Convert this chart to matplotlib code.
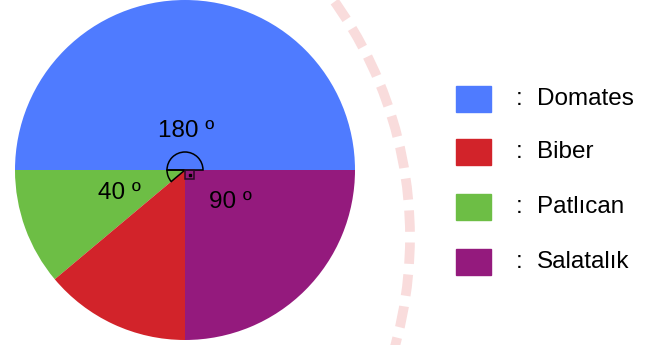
import matplotlib.pyplot as plt
from matplotlib.patches import Wedge, Rectangle, Circle

# veriler
dilimler = ['Domates', 'Patlıcan', 'Biber', 'Salatalık']
acilar = [180, 40, 50, 90]
renkler = ['#4f7bff', '#6dbe45', '#d2232a', '#941a7d']
etiketler = ['180 º', '40 º', '', '90 º']

lejant = ['Domates', 'Biber', 'Patlıcan', 'Salatalık']
lejant_renk = ['#4f7bff', '#d2232a', '#6dbe45', '#941a7d']

plt.rcParams['font.family'] = ['Liberation Sans', 'DejaVu Sans']

fig = plt.figure(figsize=(6.61, 3.45), dpi=100)
ax = fig.add_axes([0, 0, 1, 1])

cx, cy, r = 185, 170, 170

# silik filigran (mühür halkası)
ax.add_patch(Circle((5, 237), 405, fill=False, ec='#f9dcdc', lw=7,
                    ls=(0, (2.2, 1.1)), zorder=0))

ax.pie(acilar, colors=renkler, startangle=0, counterclock=False,
       center=(cx, cy), radius=r, frame=True,
       wedgeprops=dict(linewidth=0))
ax.set_xlim(0, 661)
ax.set_ylim(345, 0)
ax.set_aspect('equal')
ax.axis('off')

# aci isaretleri
ax.add_patch(Wedge((cx, cy), 18, 180, 360, fill=False, ec='black', lw=1.1, zorder=5))
ax.add_patch(Wedge((cx, cy), 18, 140, 180, fill=False, ec='black', lw=1.1, zorder=5))
ax.add_patch(Rectangle((cx, cy), 9, 9, fill=False, ec='#2a0a25', lw=1.1, zorder=5))
ax.plot(cx + 4.5, cy + 4.5, 's', ms=2, color='black', zorder=6)

konum = [(186, 131), (119, 193), None, (230, 202)]
for et, k in zip(etiketler, konum):
    if k:
        ax.text(k[0], k[1], et, fontsize=17.5, ha='center', va='center')

# lejant
ys = [99, 152, 207, 262]
for ad, renk, y in zip(lejant, lejant_renk, ys):
    ax.add_patch(Rectangle((456, y - 13), 35, 26, color=renk))
    ax.text(519, y, ':', fontsize=17.5, ha='center', va='center')
    ax.text(537, y, ad, fontsize=17.5, ha='left', va='center')

fig.savefig('out.png', dpi=100)
